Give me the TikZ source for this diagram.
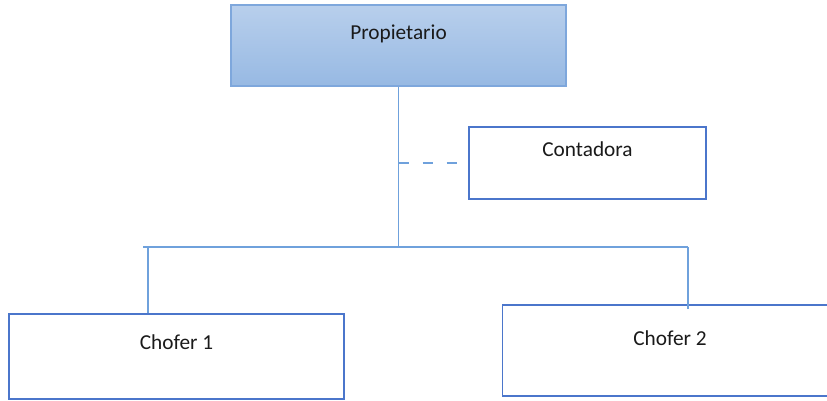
\documentclass[tikz,border=0pt]{standalone}
\usepackage{fontspec}
\setmainfont{Carlito}
\usepackage{xcolor}
\usepackage{tikz}
\usetikzlibrary{calc}
\definecolor{headtop}{HTML}{B8CFEC}
\definecolor{headbot}{HTML}{97B9E3}
\definecolor{headline}{HTML}{7EA7DC}
\definecolor{boxline}{HTML}{4B76CB}
\definecolor{wire}{HTML}{6FA1DC}
\definecolor{ink}{HTML}{1A1A1A}
\tikzset{
  head/.style={draw=headline, line width=1.5pt, top color=headtop, bottom color=headbot,
    minimum width=335pt, minimum height=81pt, text=ink, font=\fontsize{21.3}{25}\selectfont,
    text height=13pt, text depth=26pt},
  unit/.style={draw=boxline, line width=1.5pt, fill=white, minimum width=335pt,
    text=ink, font=\fontsize{21.3}{25}\selectfont, text height=13pt},
  link/.style={draw=wire, line width=1.5pt},
  aux/.style={draw=wire, line width=1.5pt, dash pattern=on 10pt off 14pt},
}
\begin{document}
\begin{tikzpicture}[x=1pt, y=-1pt]
  \useasboundingbox (0,0) rectangle (827,400);
  \node[head] (prop) at (398.5,45.5) {Propietario};
  \node[unit, minimum width=237pt, minimum height=72pt, text depth=26pt] (cont) at (587.5,163) {Contadora};
  \node[unit, minimum height=85pt, text depth=27pt] (chof1) at (176.5,356.5) {Chofer 1};
  \node[unit, minimum height=91pt, text depth=23pt] (chof2) at (670,350.5) {Chofer 2};
  % bus line
  \coordinate (busL) at (143,247);
  \coordinate (busM) at (prop.south |- busL);
  \coordinate (busR) at (688,247);
  \coordinate (drop1) at (148,247);
  \draw[link] (prop.south) -- (busM);
  \draw[link] (busL) -- (busR);
  \draw[aux] (prop.south |- cont.west) -- (cont.west);
  \draw[link] (drop1) -- (drop1 |- chof1.north);
  \draw[link] (busR) -- ($(busR |- chof2.north)+(0,5)$);
\end{tikzpicture}
\end{document}
